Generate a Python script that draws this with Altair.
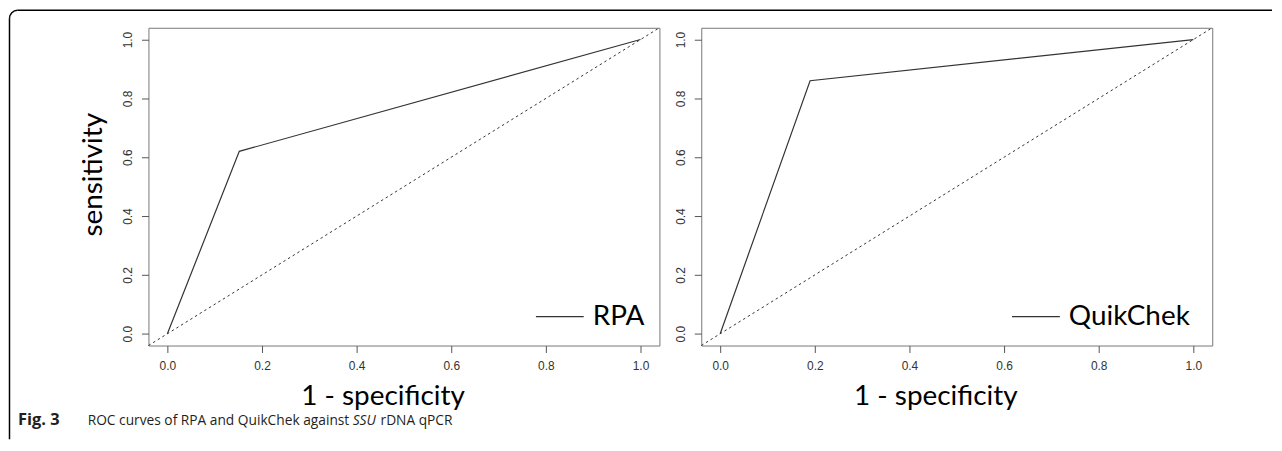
import altair as alt
import pandas as pd

# ---- data ----
rpa_fpr = [0.0, 0.152, 1.0]
rpa_tpr = [0.0, 0.62, 1.0]
qk_fpr = [0.0, 0.19, 1.0]
qk_tpr = [0.0, 0.86, 1.0]
diag_vals = [-0.04, 1.04]
tick_vals = [0.0, 0.2, 0.4, 0.6, 0.8, 1.0]
series_names = ["RPA", "QuikChek"]
x_title = "1 - specificity"
y_title = "sensitivity"
cap_bold = "Fig. 3"
cap_a = "ROC curves of RPA and QuikChek against"
cap_italic = "SSU"
cap_b = "rDNA qPCR"

W, H = 513, 319
DOM = [-0.04, 1.04]
TFONT = "Lato"
CFONT = "Open Sans"
CSIZE = 13.8
LFONT = "Liberation Sans"
LSIZE = 12


def xaxis():
    return alt.Axis(values=tick_vals, format=".1f", title=x_title, grid=False,
                    domain=False, ticks=True, tickSize=7, tickColor="#555",
                    labelFont=LFONT, labelFontSize=LSIZE, labelColor="#333",
                    titleFont=TFONT, titleFontSize=28, titleFontWeight="normal",
                    titleColor="black", titleX=235, titleY=59,
                    titleAlign="center", titleBaseline="alphabetic",
                    labelPadding=8, labelAngle=0)


def yaxis(with_title):
    kw = dict(values=tick_vals, format=".1f", labelAngle=270, grid=False,
              domain=False, ticks=True, tickSize=7, tickColor="#555",
              labelFont=LFONT, labelFontSize=LSIZE, labelColor="#333",
              labelAlign="center", labelBaseline="bottom", labelPadding=7)
    if with_title:
        kw.update(title=y_title, titleFont=TFONT, titleFontSize=28,
                  titleFontWeight="normal", titleColor="black",
                  titleAngle=270, titleX=-47, titleY=147,
                  titleAlign="center", titleBaseline="alphabetic")
    else:
        kw.update(title=None)
    return alt.Axis(**kw)


def panel(fpr, tpr, name, with_ytitle, legend_x):
    xs = alt.Scale(domain=DOM, nice=False, zero=False)
    ys = alt.Scale(domain=DOM, nice=False, zero=False)
    diag = pd.DataFrame({"fpr": diag_vals, "tpr": diag_vals})
    roc = pd.DataFrame({"fpr": fpr, "tpr": tpr, "name": [name] * len(fpr)})

    d = alt.Chart(diag).mark_line(strokeDash=[2.5, 3], color="#333",
                                  strokeWidth=1).encode(
        x=alt.X("fpr:Q", scale=xs, axis=xaxis()),
        y=alt.Y("tpr:Q", scale=ys, axis=yaxis(with_ytitle)),
    )
    r = alt.Chart(roc).mark_line(strokeWidth=1.2).encode(
        x=alt.X("fpr:Q", scale=xs, axis=xaxis()),
        y=alt.Y("tpr:Q", scale=ys, axis=yaxis(with_ytitle)),
        color=alt.Color("name:N", scale=alt.Scale(range=["#333333"]),
                        legend=alt.Legend(orient="none", legendX=legend_x,
                                          legendY=265, title=None,
                                          symbolType="stroke",
                                          symbolSize=2304,
                                          symbolStrokeWidth=1.2,
                                          labelFont=TFONT, labelFontSize=28,
                                          labelColor="black", labelOffset=8,
                                          padding=0)),
    )
    return alt.layer(d, r).properties(width=W, height=H)


one = pd.DataFrame({"k": [0]})
deco = []
# figure border (top-left rounded corner)
deco.append(alt.Chart(one).mark_rule(color="black", strokeWidth=1.5).encode(
    x=alt.value(-139.5), y=alt.value(-9.5), y2=alt.value(413)))
deco.append(alt.Chart(one).mark_rule(color="black", strokeWidth=1.5).encode(
    x=alt.value(-131.5), x2=alt.value(1128), y=alt.value(-17.5)))
deco.append(alt.Chart(one).mark_arc(color="black", theta=4.71239,
                                    theta2=6.28319, innerRadius=7.25,
                                    outerRadius=8.75).encode(
    x=alt.value(-131.5), y=alt.value(-9.5)))
# caption
deco.append(alt.Chart(one).mark_text(font=CFONT, fontSize=16.5,
                                     fontWeight="bold", align="left",
                                     baseline="alphabetic", color="#231f20").encode(
    x=alt.value(-131), y=alt.value(399), text=alt.value(cap_bold)))
deco.append(alt.Chart(one).mark_text(font=CFONT, fontSize=CSIZE,
                                     align="left", baseline="alphabetic",
                                     color="#231f20").encode(
    x=alt.value(-61), y=alt.value(399), text=alt.value(cap_a)))
deco.append(alt.Chart(one).mark_text(font=CFONT, fontSize=CSIZE,
                                     fontStyle="italic", align="left",
                                     baseline="alphabetic", color="#231f20").encode(
    x=alt.value(205), y=alt.value(399), text=alt.value(cap_italic)))
deco.append(alt.Chart(one).mark_text(font=CFONT, fontSize=CSIZE,
                                     align="left", baseline="alphabetic",
                                     color="#231f20").encode(
    x=alt.value(233), y=alt.value(399), text=alt.value(cap_b)))

left = alt.layer(panel(rpa_fpr, rpa_tpr, series_names[0], True, 388), *deco)
right = panel(qk_fpr, qk_tpr, series_names[1], False, 311)

chart = alt.hconcat(left, right, spacing=42, bounds="flush").resolve_scale(
    color="independent").resolve_legend(color="independent").properties(
    padding=0, background="white"
).configure_view(stroke="#777", strokeWidth=1).configure_axis(
    labelFont=LFONT, labelFontSize=LSIZE, labelColor="#333",
    tickColor="#555", tickSize=7, tickWidth=1, domain=False, grid=False,
    ticks=True
)

chart.save("out.html", embed_options={"renderer": "svg", "actions": False})
